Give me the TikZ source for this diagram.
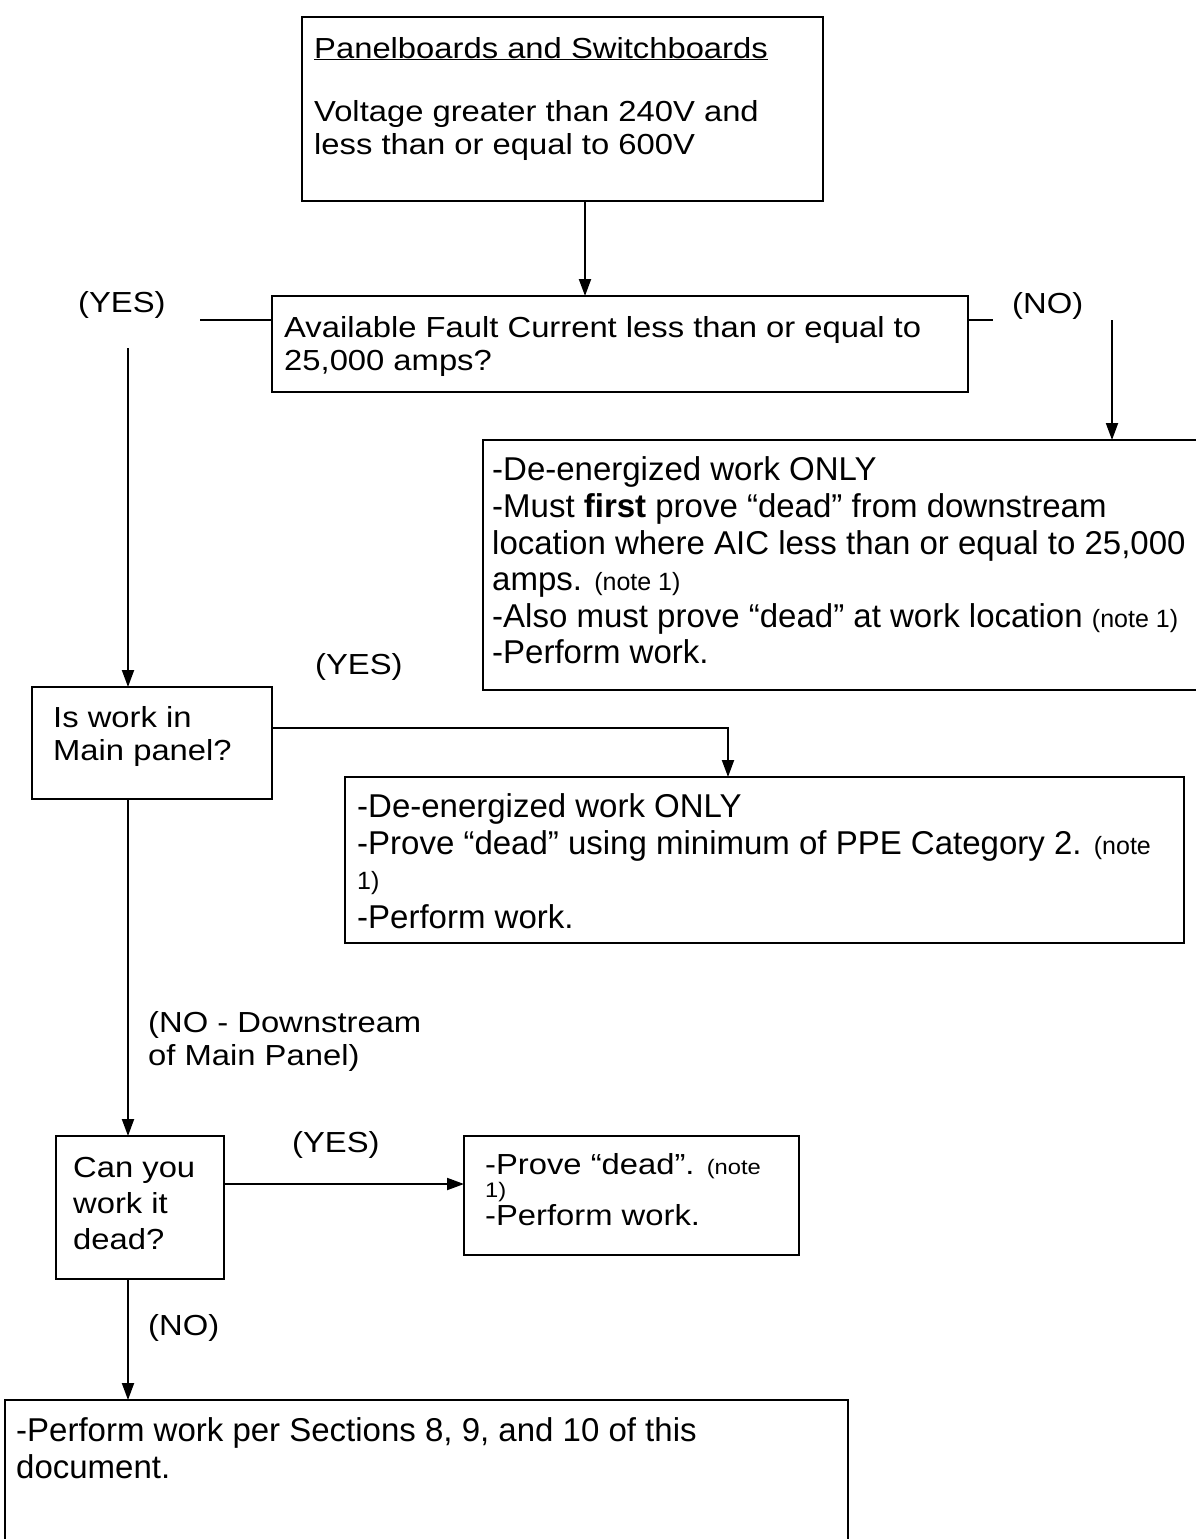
\documentclass[tikz,border=0pt]{standalone}
\usepackage{fontspec}
\setmainfont{Liberation Sans}
\newfontfamily\widef{Liberation Sans}[FakeStretch=1.13]
\newfontfamily\narf{Liberation Sans}
\usetikzlibrary{arrows.meta,calc}
\newcommand\wnote{\widef\fontsize{21}{24}\selectfont}
\newcommand\nnote{\narf\fontsize{25}{28}\selectfont}
\tikzset{
  box/.style={draw, line width=2.6pt, rectangle, inner sep=0pt, outer sep=0pt, anchor=north west},
  conn/.style={line width=2pt},
  arr/.style={conn, -{Triangle[length=17pt,width=12pt]}},
  wt/.style={anchor=base west, inner sep=0pt, font=\widef\fontsize{29}{33}\selectfont},
  nt/.style={anchor=base west, inner sep=0pt, font=\narf\fontsize{33}{37}\selectfont},
}
\begin{document}
\begin{tikzpicture}[x=1pt,y=-1pt]
\clip (0,0) rectangle (1196,1539);
\fill[white] (0,0) rectangle (1196,1539);
% boxes
\node[box, minimum width=521pt, minimum height=184pt] (top) at (302,17) {};
\node[box, minimum width=696pt, minimum height=96pt] (fault) at (272,296) {};
\node[box, minimum width=760pt, minimum height=250pt] (rb1) at (483,440) {};
\node[box, minimum width=240pt, minimum height=112pt] (mainp) at (32,687) {};
\node[box, minimum width=839pt, minimum height=166pt] (rb2) at (345,777) {};
\node[box, minimum width=168pt, minimum height=143pt] (can) at (56,1136) {};
\node[box, minimum width=335pt, minimum height=119pt] (rb3) at (464,1136) {};
\node[box, minimum width=843pt, minimum height=220pt] (bot) at (5,1400) {};
% texts
\node[wt] (t1) at (314,58) {\underline{Panelboards and Switchboards}};
\node[wt] (t2) at (314,121) {Voltage greater than 240V and};
\node[wt] (t3) at (314,154) {less than or equal to 600V};
\node[wt] (f1) at (284,337) {Available Fault Current less than or equal to};
\node[wt] (f2) at (284,370) {25,000 amps?};
\node[wt] (y1) at (78,312) {(YES)};
\node[wt] (n1) at (1012,313) {(NO)};
\node[nt] (r1a) at (492,480) {-De-energized work ONLY};
\node[nt] (r1b) at (492,517) {-Must \textbf{first} prove “dead” from downstream};
\node[nt] (r1c) at (492,554) {location where AIC less than or equal to 25,000};
\node[nt] (r1d) at (492,590) {amps. {\nnote (note 1)}};
\node[nt] (r1e) at (492,627) {-Also must prove “dead” at work location {\nnote (note 1)}};
\node[nt] (r1f) at (492,663) {-Perform work.};
\node[wt] (m1) at (53,727) {Is work in};
\node[wt] (m2) at (53,760) {Main panel?};
\node[wt] (y2) at (315,674) {(YES)};
\node[nt] (r2a) at (357,817) {-De-energized work ONLY};
\node[nt] (r2b) at (357,854) {-Prove “dead” using minimum of PPE Category 2. {\nnote (note}};
\node[nt] (r2c) at (357,889) {\nnote 1)};
\node[nt] (r2d) at (357,928) {-Perform work.};
\node[wt] (d1) at (148,1032) {(NO - Downstream};
\node[wt] (d2) at (148,1065) {of Main Panel)};
\node[wt] (c1) at (73,1177) {Can you};
\node[wt] (c2) at (73,1213) {work it};
\node[wt] (c3) at (73,1249) {dead?};
\node[wt] (y3) at (292,1152) {(YES)};
\node[wt] (r3a) at (485,1174) {-Prove “dead”. {\wnote (note}};
\node[wt] (r3b) at (485,1197) {\wnote 1)};
\node[wt] (r3c) at (485,1225) {-Perform work.};
\node[wt] (n2) at (148,1335) {(NO)};
\node[nt] (b1) at (16,1441) {-Perform work per Sections 8, 9, and 10 of this};
\node[nt] (b2) at (16,1478) {document.};
% connectors
\draw[arr] ($(top.south west)+(283,0)$) -- ($(fault.north west)+(313,0)$);
\draw[conn] ($(fault.north west)+(-72,24)$) -- ($(fault.north west)+(0,24)$);
\draw[conn] ($(fault.north east)+(0,24)$) -- ($(fault.north east)+(25,24)$);
\draw[arr] ($(mainp.north west)+(96,-339)$) -- ($(mainp.north west)+(96,0)$);
\draw[arr] ($(rb1.north west)+(629,-120)$) -- ($(rb1.north west)+(629,0)$);
\draw[arr] ($(mainp.north east)+(0,41)$) -| ($(rb2.north west)+(383,0)$);
\draw[arr] ($(mainp.south west)+(96,0)$) -- ($(can.north west)+(72,0)$);
\draw[arr] ($(can.north east)+(0,48)$) -- ($(rb3.north west)+(0,48)$);
\draw[arr] ($(can.south west)+(72,0)$) -- ($(bot.north west)+(123,0)$);
\end{tikzpicture}
\end{document}
